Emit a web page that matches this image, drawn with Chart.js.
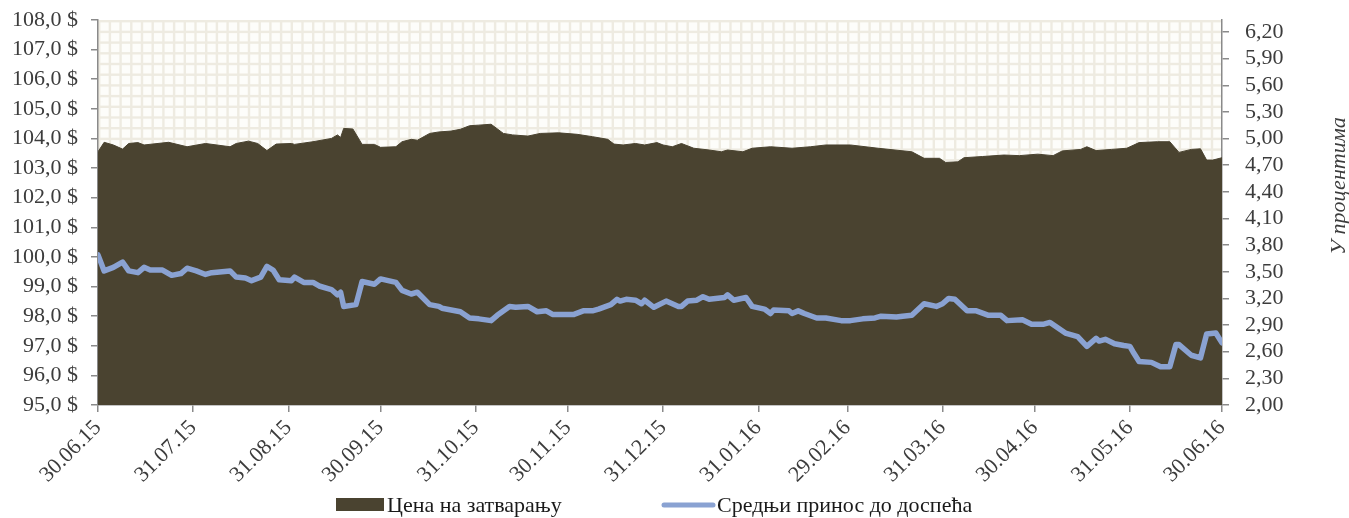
<!DOCTYPE html>
<html>
<head>
<meta charset="utf-8">
<script src="https://cdn.jsdelivr.net/npm/chart.js@4.4.0/dist/chart.umd.min.js"></script>
<style>
  html, body { margin: 0; padding: 0; background: #fff; }
</style>
</head>
<body>
<canvas id="myChart" width="1349" height="518"></canvas>
<script>
// x values are calendar days counted from 30.06.15
let tickDays = [0, 31, 62, 92, 123, 153, 184, 215, 244, 275, 305, 336, 366];
let tickLabels = ['30.06.15', '31.07.15', '31.08.15', '30.09.15', '31.10.15', '30.11.15', '31.12.15',
                  '31.01.16', '29.02.16', '31.03.16', '30.04.16', '31.05.16', '30.06.16'];
let yieldTicks = [2.00, 2.30, 2.60, 2.90, 3.20, 3.50, 3.80, 4.10, 4.40, 4.70, 5.00, 5.30, 5.60, 5.90, 6.20];
let seriesNames = ['Цена на затварању', 'Средњи принос до доспећа'];
let axisTitle = 'У процентима';

let priceDays = [0, 2, 5, 8, 10, 13, 15, 23, 29, 35, 43, 45, 49, 52, 55, 58, 63, 64, 70, 76, 78, 79, 80, 83, 86,
                 90, 92, 97, 99, 102, 104, 108, 111, 115, 118, 121, 124, 128, 132, 135, 140, 144, 150, 156, 161,
                 166, 168, 171, 175, 178, 182, 184, 187, 190, 194, 199, 203, 205, 210, 213, 219, 226, 232, 237,
                 245, 254, 265, 269, 274, 276, 280, 282, 288, 295, 300, 306, 311, 314, 320, 322, 325, 330, 335,
                 339, 345, 349, 352, 356, 359, 361, 363, 366];
let priceValues = [103.55, 103.87, 103.78, 103.64, 103.83, 103.86, 103.78, 103.87, 103.72, 103.83, 103.72, 103.83,
                   103.91, 103.83, 103.59, 103.81, 103.83, 103.80, 103.89, 104.00, 104.12, 104.03, 104.34, 104.32,
                   103.80, 103.80, 103.70, 103.72, 103.89, 103.97, 103.94, 104.17, 104.22, 104.25, 104.31, 104.43,
                   104.45, 104.48, 104.17, 104.12, 104.08, 104.17, 104.19, 104.14, 104.06, 103.97, 103.81, 103.78,
                   103.83, 103.78, 103.86, 103.78, 103.72, 103.83, 103.67, 103.61, 103.55, 103.61, 103.55, 103.67,
                   103.72, 103.67, 103.72, 103.78, 103.78, 103.67, 103.55, 103.33, 103.33, 103.19, 103.21, 103.35,
                   103.39, 103.44, 103.42, 103.47, 103.42, 103.58, 103.63, 103.72, 103.59, 103.63, 103.67, 103.86,
                   103.89, 103.89, 103.53, 103.63, 103.65, 103.27, 103.27, 103.35];

let yieldDays = [0, 2, 5, 8, 10, 13, 15, 17, 21, 24, 27, 29, 32, 35, 37, 43, 45, 48, 50, 53, 55, 57, 59, 63, 64,
                 67, 70, 72, 76, 78, 79, 80, 84, 85, 86, 90, 92, 97, 99, 102, 104, 108, 111, 112, 118, 121, 124,
                 128, 130, 134, 136, 140, 143, 146, 148, 155, 158, 161, 163, 167, 169, 170, 172, 175, 177, 178,
                 181, 185, 189, 190, 192, 195, 197, 199, 204, 205, 207, 211, 213, 217, 219, 220, 225, 226, 228,
                 230, 234, 237, 242, 245, 249, 253, 255, 260, 262, 265, 269, 273, 275, 277, 279, 283, 286, 290,
                 294, 296, 301, 304, 308, 310, 315, 319, 322, 325, 326, 328, 331, 334, 336, 337, 339, 343, 346,
                 349, 351, 352, 356, 359, 361, 364, 366];
let yieldValues = [3.69, 3.51, 3.55, 3.61, 3.51, 3.49, 3.55, 3.52, 3.52, 3.46, 3.48, 3.54, 3.51, 3.47, 3.49, 3.51,
                   3.44, 3.43, 3.40, 3.44, 3.56, 3.52, 3.41, 3.40, 3.44, 3.38, 3.38, 3.34, 3.30, 3.24, 3.27, 3.11,
                   3.13, 3.26, 3.39, 3.36, 3.42, 3.38, 3.29, 3.25, 3.27, 3.13, 3.11, 3.09, 3.05, 2.98, 2.97, 2.95,
                   3.01, 3.11, 3.10, 3.11, 3.05, 3.06, 3.02, 3.02, 3.06, 3.06, 3.08, 3.13, 3.19, 3.17, 3.19, 3.18,
                   3.14, 3.18, 3.10, 3.17, 3.11, 3.11, 3.17, 3.18, 3.22, 3.19, 3.21, 3.24, 3.18, 3.21, 3.11, 3.08,
                   3.03, 3.07, 3.06, 3.03, 3.06, 3.03, 2.98, 2.98, 2.95, 2.95, 2.97, 2.98, 3.00, 2.99, 3.00, 3.01,
                   3.14, 3.11, 3.14, 3.20, 3.19, 3.06, 3.06, 3.01, 3.01, 2.95, 2.96, 2.91, 2.91, 2.93, 2.81, 2.77,
                   2.66, 2.75, 2.72, 2.74, 2.69, 2.67, 2.66, 2.60, 2.49, 2.48, 2.43, 2.43, 2.68, 2.68, 2.56, 2.53,
                   2.80, 2.81, 2.70];

let priceColor = '#4A4330';
let yieldColor = '#8AA2D2';
let axisColor = '#8A8A8A';
let textColor = '#3C3C3C';
let serif = "'Liberation Serif', 'Times New Roman', serif";

Chart.defaults.font.family = serif;
Chart.defaults.font.size = 22;
Chart.defaults.color = textColor;

// checked plot area background
const patternBg = {
    id: 'patternBg',
    beforeDraw(chart) {
        const { ctx, chartArea: a } = chart;
        const step = 10.7, line = 2.4;
        ctx.save();
        ctx.fillStyle = '#EEEBE1';
        ctx.fillRect(a.left, a.top, a.right - a.left, a.bottom - a.top);
        ctx.fillStyle = '#FDFDFA';
        for (let x = a.left + line; x < a.right; x += step) {
            for (let y = a.top + line; y < a.bottom; y += step) {
                ctx.fillRect(x, y, Math.min(step - line, a.right - x), Math.min(step - line, a.bottom - y));
            }
        }
        ctx.restore();
    }
};

// legend + right axis title
const extras = {
    id: 'extras',
    afterDraw(chart) {
        const ctx = chart.ctx;
        ctx.save();
        ctx.font = '22px ' + serif;
        ctx.textBaseline = 'middle';
        ctx.fillStyle = priceColor;
        ctx.fillRect(336, 498, 48, 13);
        ctx.fillStyle = '#1a1a1a';
        ctx.fillText(seriesNames[0], 387, 506);
        ctx.strokeStyle = yieldColor;
        ctx.lineWidth = 5;
        ctx.lineCap = 'round';
        ctx.beginPath();
        ctx.moveTo(664, 505);
        ctx.lineTo(713, 505);
        ctx.stroke();
        ctx.fillText(seriesNames[1], 717, 506);

        ctx.translate(1339, 186);
        ctx.rotate(-Math.PI / 2);
        ctx.font = 'italic 22px ' + serif;
        ctx.fillStyle = textColor;
        ctx.textAlign = 'center';
        ctx.fillText(axisTitle, 0, 0);
        ctx.restore();
    }
};

let ctx = document.getElementById('myChart').getContext('2d');

let chart = new Chart(ctx, {
    type: 'line',
    data: {
        datasets: [
            {
                label: seriesNames[1],
                data: yieldDays.map((d, i) => ({ x: d, y: yieldValues[i] })),
                yAxisID: 'y1',
                borderColor: yieldColor,
                borderWidth: 5.5,
                borderJoinStyle: 'round',
                borderCapStyle: 'round',
                pointRadius: 0,
                fill: false,
                order: 0
            },
            {
                label: seriesNames[0],
                data: priceDays.map((d, i) => ({ x: d, y: priceValues[i] })),
                yAxisID: 'y',
                borderColor: priceColor,
                backgroundColor: priceColor,
                borderWidth: 1,
                pointRadius: 0,
                fill: 'start',
                order: 1
            }
        ]
    },
    options: {
        responsive: false,
        animation: false,
        layout: { padding: { top: 20, left: 0, right: 0, bottom: 0 } },
        plugins: {
            legend: { display: false },
            tooltip: { enabled: false }
        },
        scales: {
            x: {
                type: 'linear',
                min: 0,
                max: 366,
                afterBuildTicks: s => { s.ticks = tickDays.map(v => ({ value: v })); },
                afterFit: s => { s.height = 113; },
                ticks: {
                    autoSkip: false,
                    minRotation: 45,
                    maxRotation: 45,
                    padding: 3,
                    color: textColor,
                    callback: (v, i) => tickLabels[i]
                },
                grid: { drawOnChartArea: false, tickLength: 7, color: axisColor, lineWidth: 1.5 },
                border: { color: axisColor, width: 1.5 }
            },
            y: {
                position: 'left',
                min: 95,
                max: 108,
                afterFit: s => { s.width = 98; s.paddingTop = 0; s.paddingBottom = 0; },
                ticks: {
                    autoSkip: false,
                    stepSize: 1,
                    padding: 13,
                    color: textColor,
                    callback: v => v.toFixed(1).replace('.', ',') + ' $'
                },
                grid: { drawOnChartArea: false, tickLength: 7, color: axisColor, lineWidth: 1.5 },
                border: { color: axisColor, width: 1.5 }
            },
            y1: {
                position: 'right',
                min: 2,
                max: 6.335,
                afterBuildTicks: s => { s.ticks = yieldTicks.map(v => ({ value: v })); },
                afterFit: s => { s.width = 127; s.paddingTop = 0; s.paddingBottom = 0; },
                ticks: {
                    autoSkip: false,
                    padding: 16,
                    color: textColor,
                    callback: v => v.toFixed(2).replace('.', ',')
                },
                grid: { drawOnChartArea: false, tickLength: 7, color: axisColor, lineWidth: 1.5 },
                border: { color: axisColor, width: 1.5 }
            }
        }
    },
    plugins: [patternBg, extras]
});
</script>
</body>
</html>
